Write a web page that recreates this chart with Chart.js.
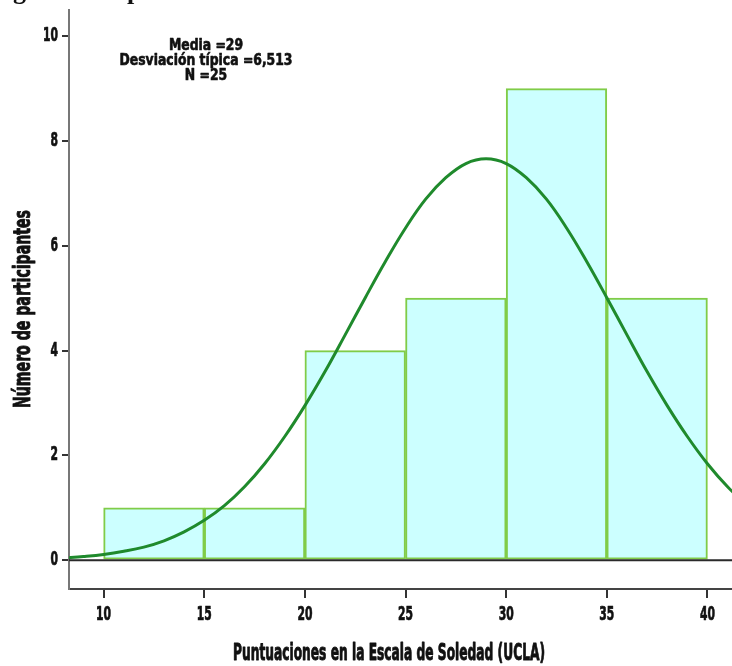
<!DOCTYPE html>
<html>
<head>
<meta charset="utf-8">
<script src="https://cdn.jsdelivr.net/npm/chart.js@4.4.1/dist/chart.umd.min.js"></script>
<style>
  html, body { margin: 0; padding: 0; background: #fff; }
  #hist { display: block; }
</style>
</head>
<body>
<canvas id="hist" width="732" height="666"></canvas>
<script>
document.addEventListener('DOMContentLoaded', function() {

    //  Datos del histograma
    const binEdges = [10, 15, 20, 25, 30, 35, 40];
    const counts   = [1, 1, 4, 5, 9, 5];

    //  Curva normal
    const curveX = [8, 9, 10, 11, 12, 13, 14, 15, 16, 17, 18, 19, 20, 21, 22, 23, 24, 25,
                    26, 27, 28, 29, 30, 31, 32, 33, 34, 35, 36, 37, 38, 39, 40, 41, 42];
    const curveY = [0.04, 0.07, 0.11, 0.17, 0.25, 0.37, 0.54, 0.76, 1.04, 1.40, 1.84, 2.36,
                    2.95, 3.60, 4.30, 5.01, 5.70, 6.34, 6.89, 7.30, 7.57, 7.66, 7.57, 7.30,
                    6.89, 6.34, 5.70, 5.01, 4.30, 3.60, 2.95, 2.36, 1.84, 1.40, 1.04];

    const xTicks = [10, 15, 20, 25, 30, 35, 40];
    const yTicks = [0, 2, 4, 6, 8, 10];

    const statsLines = ['Media =29', 'Desviación típica =6,513', 'N =25'];
    const xTitle = 'Puntuaciones en la Escala de Soledad (UCLA)';
    const yTitle = 'Número de participantes';

    const narrow = "'Liberation Sans Narrow', 'DejaVu Sans Condensed', sans-serif";

    const barPoints = counts.map((c, i) => ({ x: (binEdges[i] + binEdges[i + 1]) / 2, y: c }));
    const curvePoints = curveX.map((x, i) => ({ x: x, y: curveY[i] }));

    //  texto comprimido a lo ancho (la fuente original es muy estrecha y gruesa)
    function squeezed(ctx, text, x, y, sx, rot) {
        ctx.save();
        ctx.translate(x, y);
        if (rot) ctx.rotate(rot);
        ctx.scale(sx, 1);
        ctx.fillText(text, 0, 0);
        ctx.strokeText(text, 0, 0);
        ctx.restore();
    }

    const extras = {
        id: 'extras',
        afterDatasetsDraw(chart) {
            const { ctx, chartArea: { left, right }, scales: { y } } = chart;
            const y0 = y.getPixelForValue(0);
            ctx.save();
            ctx.strokeStyle = '#2a2a2a';
            ctx.lineWidth = 2;
            ctx.beginPath();
            ctx.moveTo(left, y0);
            ctx.lineTo(right, y0);
            ctx.stroke();
            ctx.restore();
        },
        afterDraw(chart) {
            const { ctx, scales: { x, y } } = chart;
            ctx.save();
            ctx.fillStyle = '#111';
            ctx.strokeStyle = '#111';
            ctx.lineJoin = 'round';

            //  etiquetas de los ejes
            ctx.lineWidth = 0.7;
            ctx.font = 'bold 19px ' + narrow;
            const sxTick = 15 / ctx.measureText('10').width;
            ctx.textBaseline = 'middle';
            ctx.textAlign = 'center';
            xTicks.forEach(v => squeezed(ctx, String(v), x.getPixelForValue(v), 615, sxTick));
            ctx.textAlign = 'right';
            yTicks.forEach(v => squeezed(ctx, String(v), 58, y.getPixelForValue(v), sxTick));

            //  titulos
            ctx.lineWidth = 0.9;
            ctx.font = 'bold 23px ' + narrow;
            ctx.textAlign = 'center';
            ctx.textBaseline = 'alphabetic';
            squeezed(ctx, xTitle, 389, 660, 312 / ctx.measureText(xTitle).width);
            ctx.textBaseline = 'middle';
            squeezed(ctx, yTitle, 24, 309, 198 / ctx.measureText(yTitle).width, -Math.PI / 2);

            //  estadisticos
            ctx.lineWidth = 0.6;
            ctx.font = 'bold 15px ' + narrow;
            ctx.textBaseline = 'alphabetic';
            const sxStats = 173 / ctx.measureText(statsLines[1]).width;
            statsLines.forEach((t, i) => squeezed(ctx, t, 206, 50 + i * 15, sxStats));

            //  pie de figura cortado arriba
            ctx.font = 'bold 26px "Liberation Serif", serif';
            ctx.textAlign = 'left';
            ctx.fillText('gura 1.', 13, -1);
            ctx.fillText('p', 127, -1);
            ctx.restore();
        }
    };

    const config = {
        type: 'bar',
        data: {
            datasets: [{
                type: 'line',
                data: curvePoints,
                borderColor: '#1f8a2c',
                borderWidth: 3,
                pointRadius: 0,
                tension: 0.4,
                fill: false,
                order: 1
            }, {
                type: 'bar',
                data: barPoints,
                backgroundColor: '#ccffff',
                borderColor: '#80cc48',
                borderWidth: 2,
                borderSkipped: false,
                barPercentage: 1,
                categoryPercentage: 1,
                grouped: false,
                order: 2
            }]
        },
        options: {
            responsive: false,
            animation: false,
            layout: { padding: { top: 10, right: 0, left: 0, bottom: 0 } },
            plugins: {
                legend: { display: false },
                tooltip: { enabled: false }
            },
            scales: {
                x: {
                    type: 'linear',
                    offset: false,
                    min: 8.28,
                    max: 41.22,
                    afterBuildTicks: s => { s.ticks = xTicks.map(v => ({ value: v })); },
                    afterFit: s => { s.height = 77; s.paddingLeft = 0; s.paddingRight = 0; },
                    grid: { offset: false, drawOnChartArea: false, drawTicks: true, tickLength: 9, tickColor: '#333', lineWidth: 2 },
                    border: { display: true, color: '#444', width: 2 },
                    ticks: { display: false }
                },
                y: {
                    min: -0.55,
                    max: 10.5,
                    afterBuildTicks: s => { s.ticks = yTicks.map(v => ({ value: v })); },
                    afterFit: s => { s.width = 69; s.paddingTop = 0; s.paddingBottom = 0; },
                    grid: { drawOnChartArea: false, drawTicks: true, tickLength: 7, tickColor: '#333', lineWidth: 2 },
                    border: { display: true, color: '#777', width: 2 },
                    ticks: { display: false }
                }
            }
        },
        plugins: [extras]
    };

    new Chart(document.getElementById('hist'), config);
});
</script>
</body>
</html>
